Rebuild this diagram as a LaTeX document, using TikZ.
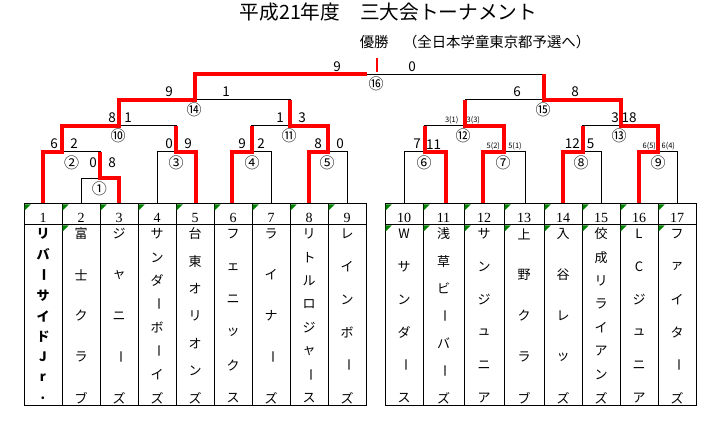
\documentclass[tikz,border=0pt]{standalone}
\usepackage{fontspec}
\setmainfont{Noto Sans CJK JP}
\newfontfamily\serifnum{Liberation Serif}
\usetikzlibrary{calc}
\definecolor{winred}{RGB}{255,0,0}
\definecolor{cornergreen}{RGB}{0,128,0}
\newcommand\vbar{\rotatebox[origin=c]{-90}{ー}}
\tikzset{
  bk/.style={line width=1pt, line join=miter},
  win/.style={line width=4pt, winred, line join=miter},
  score/.style={font=\fontsize{13.5}{15}\selectfont, inner sep=0},
  smallscore/.style={font=\fontsize{7.5}{9}\selectfont, inner sep=0},
  circ/.style={font=\fontsize{15}{17}\selectfont, inner sep=0},
  vch/.style={font=\fontsize{13}{15}\selectfont, inner sep=0},
  numcell/.style={draw, line width=1pt, minimum height=21pt, inner sep=0, outer sep=0,
    text height=16.3pt, text depth=0pt, font=\serifnum\fontsize{14}{16}\selectfont},
  namecell/.style={draw, line width=1pt, minimum height=180pt, inner sep=0, outer sep=0},
  corner/.style={fill=cornergreen},
}
\begin{document}
\begin{tikzpicture}[x=1pt,y=-1pt]
\useasboundingbox (0,0) rectangle (720,422);

% titles
\node[font=\fontsize{19.7}{22}\selectfont, inner sep=0] (title) at (388.5,12) {平成21年度　三大会トーナメント};
\node[font=\fontsize{14.4}{16}\selectfont, inner sep=0] (sub) at (475,42) {優勝　（全日本学童東京都予選へ）};

% leg bottoms on table top
\foreach \k/\x in {1/43,2/81.7,3/119.3,4/157.3,5/195.7,6/232.3,7/271,8/309,9/347.3,
                   10/404.3,11/445.7,12/483.3,13/525,14/563.3,15/601.7,16/639.3,17/677.3}
  \coordinate (b\k) at (\x,204);

% match points
\coordinate (g1R) at (119.3,178.3); \coordinate (g1O) at (100,178.3);
\coordinate (g2R) at (100,152);     \coordinate (g2O) at (62.3,152);
\coordinate (g3R) at (195.7,152);   \coordinate (g3O) at (176,152);
\coordinate (g4R) at (271,152);     \coordinate (g4O) at (251.7,152);
\coordinate (g5R) at (347.3,152);   \coordinate (g5O) at (328,152);
\coordinate (g6R) at (445.7,152);   \coordinate (g6O) at (424.7,152);
\coordinate (g7R) at (525,152);     \coordinate (g7O) at (504,152);
\coordinate (g8R) at (601.7,152);   \coordinate (g8O) at (582.7,152);
\coordinate (g9R) at (677.3,152);   \coordinate (g9O) at (658.3,152);
\coordinate (g10R) at (176,126);    \coordinate (g10O) at (119.3,126);
\coordinate (g11L) at (251.7,126);  \coordinate (g11R) at (328,126);  \coordinate (g11O) at (290,126);
\coordinate (g12L) at (424.7,126);  \coordinate (g12R) at (504,126);  \coordinate (g12O) at (465,126);
\coordinate (g13L) at (582.7,126);  \coordinate (g13R) at (658.3,126);\coordinate (g13O) at (620.5,126);
\coordinate (g14R) at (290,100);    \coordinate (g14O) at (195,100);
\coordinate (g15L) at (465,100);    \coordinate (g15R) at (620.5,100);\coordinate (g15O) at (544,100);
\coordinate (g16R) at (544,74.3);   \coordinate (g16W) at (366.7,74.3);
\coordinate (tk1) at (377.3,58);    \coordinate (tk2) at (377.3,72);

% black bracket
\draw[bk] (b2) |- (g1R) -- (b3);
\draw[bk] (b1) |- (g2R) -- (g1O);
\draw[bk] (b4) |- (g3R) -- (b5);
\draw[bk] (b6) |- (g4R) -- (b7);
\draw[bk] (b8) |- (g5R) -- (b9);
\draw[bk] (g2O) |- (g10R) -- (g3O);
\draw[bk] (g4O) |- (g11R) -- (g5O);
\draw[bk] (g10O) |- (g14R) -- (g11O);
\draw[bk] (g14O) |- (g16R) -- (g15O);
\draw[bk] (b10) |- (g6R) -- (b11);
\draw[bk] (b12) |- (g7R) -- (b13);
\draw[bk] (b14) |- (g8R) -- (b15);
\draw[bk] (b16) |- (g9R) -- (b17);
\draw[bk] (g6O) |- (g12R) -- (g7O);
\draw[bk] (g8O) |- (g13R) -- (g9O);
\draw[bk] (g12O) |- (g15R) -- (g13O);

% winner paths
\draw[win] (b1) |- (g2O) |- (g10O) |- (g14O) |- (g16W);
\draw[win] (b3) |- (g1O) -- (g2R);
\draw[win] (b5) |- (g3O) -- (g10R);
\draw[win] (b6) |- (g4O) -- (g11L);
\draw[win] (b8) |- (g5O) |- (g11O) -- (g14R);
\draw[win] (b11) |- (g6O) -- (g12L);
\draw[win] (b12) |- (g7O) |- (g12O) -- (g15L);
\draw[win] (b14) |- (g8O) -- (g13L);
\draw[win] (b16) |- (g9O) |- (g13O) |- (g15O) -- (g16R);
\draw[winred, line width=2pt] (tk1) -- (tk2);

% scores
\foreach \nm/\x/\y/\t in {s1a/93/163/0, s1b/112/163/8, s2a/54/144/6, s2b/74/144/2,
  s3a/169/144/0, s3b/188/144/9, s4a/242/144/9, s4b/261/144/2, s5a/318/144/8, s5b/340/144/0,
  s10a/112/118/8, s10b/128/118/1, s11a/280/118/1, s11b/302/118/3,
  s14a/169/92/9, s14b/226/92/1, s16a/337/67/9, s16b/412/67/0,
  s6a/417/144/7, s6b/433.5/145/11, s8a/572.3/144/12, s8b/590.7/144/5,
  s13a/615/118/3, s13b/629/118/18, s15a/517/92/6, s15b/575/92/8}
  \node[score] (\nm) at (\x,\y) {\t};
\foreach \nm/\x/\y/\t in {s7a/493.3/146.5/5(2), s7b/515/146.5/5(1),
  s9a/649.3/146.5/6(5), s9b/668.3/146.5/6(4),
  s12a/451.7/120/3(1), s12b/473.3/120/3(3)}
  \node[smallscore] (\nm) at (\x,\y) {\t};

% match numbers
\foreach \nm/\x/\y/\t in {c1/99.3/188.5/①, c2/71.7/162.7/②, c3/176/163/③, c4/252/163/④,
  c5/327/163/⑤, c10/118/136/⑩, c11/289/136/⑪, c14/194/110/⑭, c16/376/84/⑯,
  c6/424/163/⑥, c7/503/163/⑦, c8/581/163/⑧, c9/658/163/⑨,
  c12/463/136/⑫, c13/619/136/⑬, c15/543/110/⑮}
  \node[circ] (\nm) at (\x,\y) {\t};

% table cells
\foreach \i/\l/\r in {1/24/62, 2/62/100, 3/100/138, 4/138/176, 5/176/214, 6/214/252,
  7/252/290, 8/290/328, 9/328/366, 10/385/423, 11/423/464, 12/464/504, 13/504/544,
  14/544/582, 15/582/620, 16/620/658, 17/658/696} {
  \pgfmathsetmacro\cx{(\l+\r)/2}
  \pgfmathsetmacro\w{\r-\l}
  \node[numcell, minimum width=\w pt] (num\i) at (\cx,214.5) {\i};
  \node[namecell, minimum width=\w pt] (nm\i) at (\cx,315) {};
  \fill[corner] ([shift={(0.5,0.5)}]num\i.north west) -- ++(6,0) -- ++(-6,6) -- cycle;
}
\foreach \i in {2,10,11,12,13,14,15,16,17}
  \fill[corner] ([shift={(0.5,0.5)}]nm\i.north west) -- ++(6,0) -- ++(-6,6) -- cycle;

% team names (vertical)
\foreach \i/\n/\st/\chars in {
  1/9/\bfseries/{リ,バ,\vbar,サ,イ,ド,J,r,.},
  2/5//{富,士,ク,ラ,ブ},
  3/5//{ジ,ャ,ニ,\vbar,ズ},
  4/8//{サ,ン,ダ,\vbar,ボ,\vbar,イ,ズ},
  5/7//{台,東,オ,リ,オ,ン,ズ},
  6/6//{フ,ェ,ニ,ッ,ク,ス},
  7/5//{ラ,イ,ナ,\vbar,ズ},
  8/8//{リ,ト,ル,ロ,ジ,ャ,\vbar,ス},
  9/6//{レ,イ,ン,ボ,\vbar,ズ},
  10/6//{W,サ,ン,ダ,\vbar,ス},
  11/7//{浅,草,ビ,\vbar,バ,\vbar,ズ},
  12/6//{サ,ン,ジ,ュ,ニ,ア},
  13/5//{上,野,ク,ラ,ブ},
  14/5//{入,谷,レ,ッ,ズ},
  15/8//{佼,成,リ,ラ,イ,ア,ン,ズ},
  16/6//{L,C,ジ,ュ,ニ,ア},
  17/6//{フ,ァ,イ,タ,\vbar,ズ}} {
  \pgfmathsetmacro\sp{164/(\n-1)}
  \foreach \ch [count=\j from 0] in \chars {
    \pgfmathsetmacro\dy{19.5+\j*\sp}
    \node[vch, font=\fontsize{13}{15}\selectfont\st] (ch\i-\j) at ($(num\i.center)+(0,\dy)$) {\ch};
  }
}
\end{tikzpicture}
\end{document}
